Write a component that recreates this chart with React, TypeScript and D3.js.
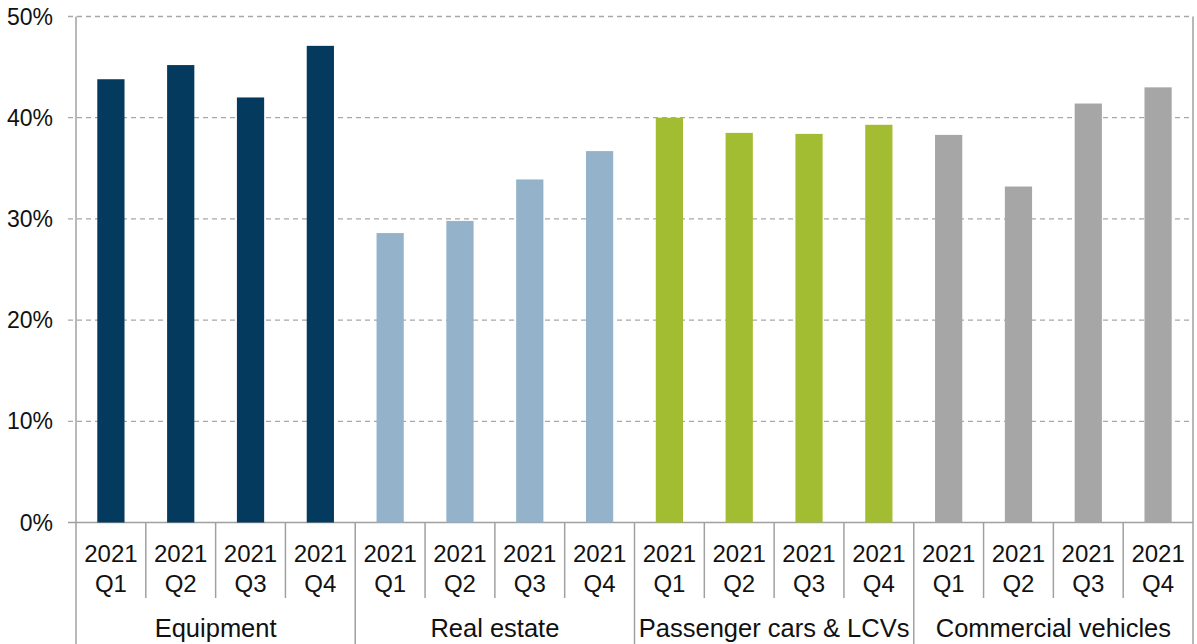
import { FC, useMemo } from "react";
import * as d3 from "d3";

const WIDTH = 1197, HEIGHT = 644;
// plot box
const PLOT = { left: 76, right: 1193, top: 16.5, zero: 522.5 };
const FONT = "'Liberation Sans', Arial, sans-serif";

const groups = ["Equipment", "Real estate", "Passenger cars & LCVs", "Commercial vehicles"];
const quarters = ["Q1", "Q2", "Q3", "Q4"];
const year = "2021";
const groupColors = ["#033a5d", "#94b3ca", "#a2bd31", "#a6a6a6"];

const equipment = [43.8, 45.2, 42.0, 47.1];
const realEstate = [28.6, 29.8, 33.9, 36.7];
const passengerCars = [40.0, 38.5, 38.4, 39.3];
const commercialVehicles = [38.3, 33.2, 41.4, 43.0];

const yTicks = [0, 10, 20, 30, 40, 50];

type Datum = { key: string; group: number; quarter: string; value: number };

const App: FC = () => {
  const data: Datum[] = useMemo(() => {
    const series = [equipment, realEstate, passengerCars, commercialVehicles];
    return series.flatMap((vals, g) =>
      vals.map((v, q) => ({ key: `${g}-${q}`, group: g, quarter: quarters[q], value: v }))
    );
  }, []);

  const keys = data.map((d) => d.key);

  // cells (no padding) for separators and labels
  const cellScale = d3.scaleBand().domain(keys).range([PLOT.left, PLOT.right]).padding(0);
  // bars, centred inside each cell
  const xScale = d3
    .scaleBand()
    .domain(keys)
    .range([PLOT.left, PLOT.right])
    .paddingInner(0.61)
    .paddingOuter(0.305);
  const yScale = d3.scaleLinear().domain([0, 50]).range([PLOT.zero, PLOT.top]);

  const step = cellScale.step();

  const grid = yTicks.map((t) => (
    <g key={t}>
      <line
        x1={PLOT.left - 8}
        x2={PLOT.right}
        y1={yScale(t)}
        y2={yScale(t)}
        stroke={t === 0 ? "#a0a0a0" : "#a8a8a8"}
        strokeWidth={t === 0 ? 1.5 : 1.3}
        strokeDasharray={t === 0 ? undefined : "5,4"}
      />
      <text
        x={53}
        y={yScale(t)}
        textAnchor="end"
        dominantBaseline="central"
        fontSize={23}
        fontFamily={FONT}
        fill="#111"
      >
        {`${t}%`}
      </text>
    </g>
  ));

  const bars = data.map((d) => (
    <rect
      key={d.key}
      x={xScale(d.key)}
      y={yScale(d.value)}
      width={xScale.bandwidth()}
      height={yScale(0) - yScale(d.value)}
      fill={groupColors[d.group]}
    />
  ));

  // separators between quarters (short) and between groups (long)
  const separators = d3.range(keys.length + 1).map((i) => {
    const x = PLOT.left + i * step;
    const isGroupEdge = i % quarters.length === 0;
    return (
      <line
        key={i}
        x1={x}
        x2={x}
        y1={isGroupEdge && (i === 0 || i === keys.length) ? PLOT.top : PLOT.zero}
        y2={isGroupEdge ? HEIGHT : 598}
        stroke="#a0a0a0"
        strokeWidth={1.5}
      />
    );
  });

  const catLabels = data.map((d) => {
    const cx = (cellScale(d.key) ?? 0) + step / 2;
    return (
      <text key={d.key} textAnchor="middle" fontSize={24} fontFamily={FONT} fill="#111">
        <tspan x={cx} y={562}>{year}</tspan>
        <tspan x={cx} y={592}>{d.quarter}</tspan>
      </text>
    );
  });

  const groupLabels = groups.map((g, i) => {
    const x0 = cellScale(`${i}-0`) ?? 0;
    const cx = x0 + (step * quarters.length) / 2;
    return (
      <text key={g} x={cx} y={637} textAnchor="middle" fontSize={25.5} fontFamily={FONT} fill="#111">
        {g}
      </text>
    );
  });

  return (
    <svg
      width={WIDTH}
      height={HEIGHT}
      style={{ position: "absolute", left: 0, top: 0, background: "#fff" }}
    >
      {grid}
      {bars}
      {separators}
      {catLabels}
      {groupLabels}
    </svg>
  );
};

export default App;
